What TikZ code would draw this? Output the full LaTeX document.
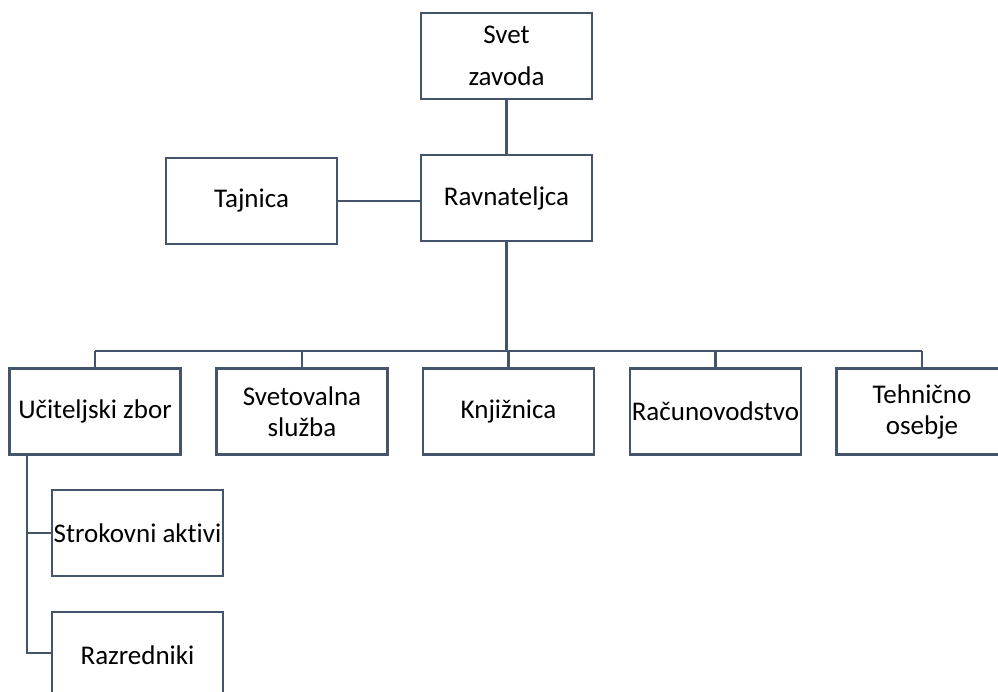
\documentclass[tikz,border=0pt]{standalone}
\usepackage{fontspec}
\setmainfont{Carlito}[Ligatures=NoCommon,RawFeature={-liga;-calt}]
\definecolor{lineblue}{HTML}{44546A}
\begin{document}
\begin{tikzpicture}[x=1pt,y=-1pt,
  box/.style={draw=lineblue,line width=2.8pt,fill=white,rectangle,inner sep=0pt,
    minimum width=171pt,minimum height=86pt,align=center,
    font=\fontsize{27}{31}\selectfont},
  conn/.style={draw=lineblue,line width=2.8pt},
  mainconn/.style={draw=lineblue,line width=3.3pt}]
\useasboundingbox (0,0) rectangle (998,692);
\clip (0,0) rectangle (998,692);
% top
\node[box,font=\fontsize{27}{42}\selectfont] (svet) at (506.5,56) {Svet\\zavoda};
\node[box] (rav) at (506.5,198) {Ravnateljca};
\node[box] (taj) at (251.5,201) {Tajnica};
% bottom row
\node[box] (uci) at (95,411.5) {Učiteljski zbor};
\node[box] (sveto) at (302,411.5) {Svetovalna\\služba};
\node[box] (knj) at (508.5,411.5) {Knjižnica};
\node[box] (rac) at (715.5,411.5) {Računovodstvo};
\node[box] (teh) at (922,411.5) {Tehnično\\osebje};
% sub
\node[box] (str) at (137.5,533) {Strokovni aktivi};
\node[box] (raz) at (137.5,655) {Razredniki};
% bus coordinates
\coordinate (bus) at (506.5,351);
\coordinate (busL) at (95,351);
\coordinate (busR) at (922,351);
\coordinate (vtop) at (27,454);
\coordinate (v1) at (27,533);
\coordinate (v2) at (27,653);
% connectors
\draw[mainconn] (svet.south) -- (rav.north);
\draw[conn] (taj.east) -- (taj.east -| rav.west);
\draw[mainconn] (rav.south) -- (bus);
\draw[conn] (busL) -- (busR);
\draw[conn] (busL) -- (uci.north);
\draw[conn] (sveto.north |- bus) -- (sveto.north);
\draw[conn] (knj.north |- bus) -- (knj.north);
\draw[conn] (rac.north |- bus) -- (rac.north);
\draw[conn] (busR) -- (teh.north);
\draw[conn] (vtop) -- (v2) -- (v2 -| raz.west);
\draw[conn] (v1) -- (str.west);
\end{tikzpicture}
\end{document}
